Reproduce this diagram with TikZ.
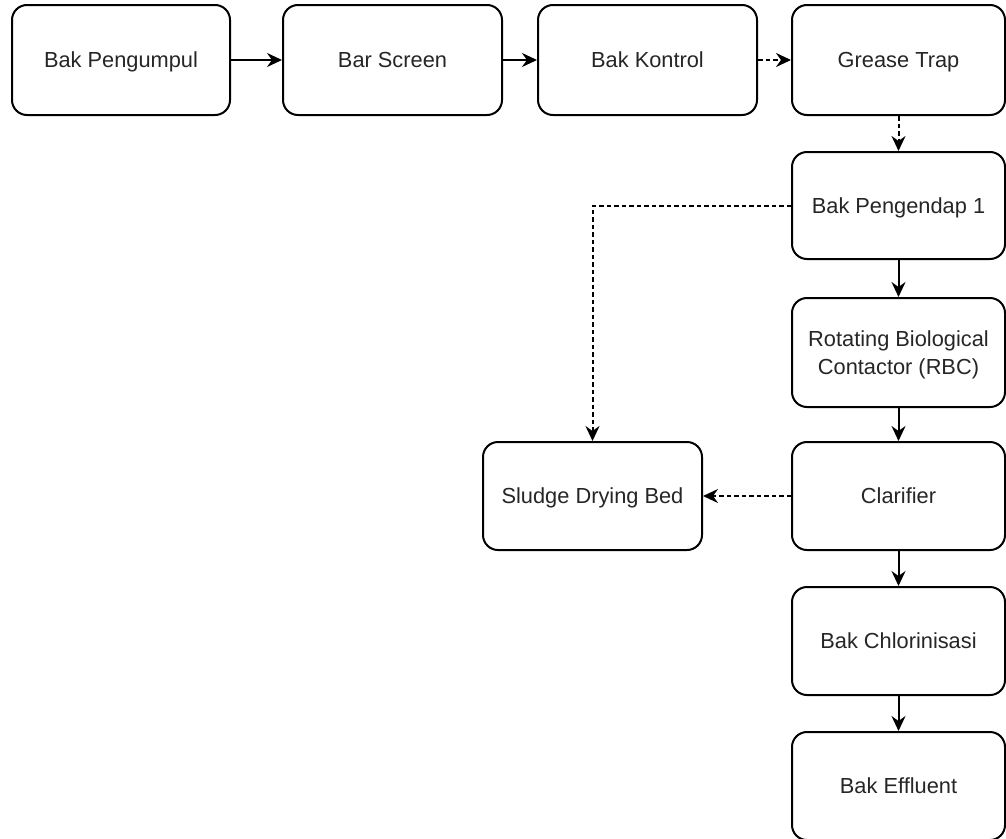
\documentclass[tikz,border=0pt]{standalone}
\usepackage{fontspec}
\setmainfont{Liberation Sans}
\usetikzlibrary{arrows.meta}
\begin{document}
\begin{tikzpicture}[x=1pt,y=-1pt,
  box/.style={draw=black, line width=2pt, rounded corners=15pt, fill=white,
    minimum height=108pt, inner sep=0pt, align=center, text depth=0pt,
    font=\fontsize{21.8}{28}\selectfont, text=black!85},
  wide/.style={box, minimum width=219pt},
  col/.style={box, minimum width=213pt},
  flow/.style={draw=black, line width=2pt,
    -{Stealth[length=15pt, width=14pt, inset=5pt]}},
  dflow/.style={flow, dash pattern=on 4.5pt off 3pt}]
  \useasboundingbox (0,0) rectangle (1006,838);

  % top row
  \node[wide, minimum width=218pt, minimum height=110pt] (bp) at (121,60) {Bak Pengumpul};
  \node[wide, minimum height=110pt] (bs) at (392.5,60) {Bar Screen};
  \node[wide, minimum height=110pt] (bk) at (647.5,60) {Bak Kontrol};
  \node[col, minimum height=110pt] (gt) at (898.5,60) {Grease Trap};

  % treatment column
  \node[col, minimum height=107pt] (pe) at (898.5,205.5) {Bak Pengendap 1};
  \node[col, minimum height=109pt] (rbc) at (898.5,352.5) {Rotating Biological\\Contactor (RBC)};
  \node[col] (cl) at (898.5,496) {Clarifier};
  \node[col] (ch) at (898.5,641) {Bak Chlorinisasi};
  \node[col] (ef) at (898.5,786) {Bak Effluent};

  % sludge handling
  \node[wide] (sdb) at (592.5,496) {Sludge Drying Bed};

  % connectors
  \draw[flow] (bp.east) -- (bs.west);
  \draw[flow] (bs.east) -- (bk.west);
  \draw[dflow] (bk.east) -- (gt.west);
  \draw[dflow] (gt.south) -- (pe.north);
  \draw[flow] (pe.south) -- (rbc.north);
  \draw[flow] (rbc.south) -- (cl.north);
  \draw[flow] (cl.south) -- (ch.north);
  \draw[flow] (ch.south) -- (ef.north);
  \draw[dflow] (pe.west) -| (sdb.north);
  \draw[dflow] (cl.west) -- (sdb.east);
\end{tikzpicture}
\end{document}
